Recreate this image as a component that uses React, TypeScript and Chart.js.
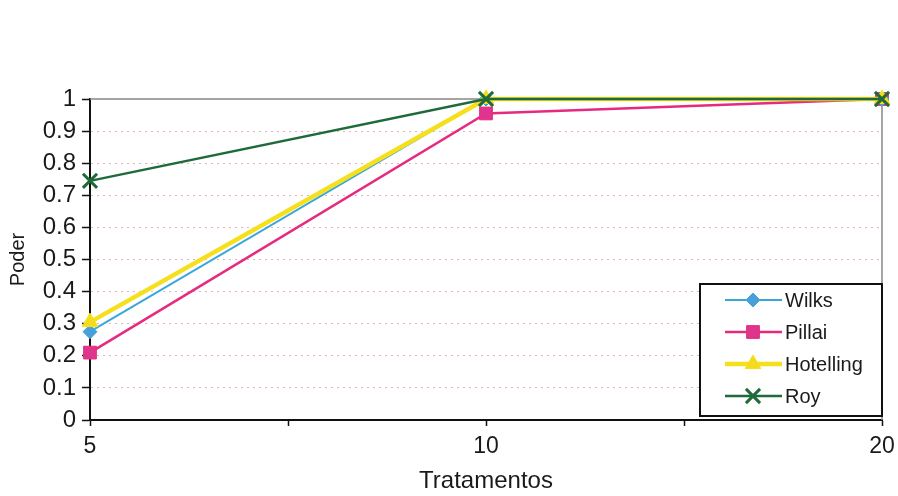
import { useEffect, useRef } from 'react';
import { Chart, registerables } from 'chart.js';

Chart.register(...registerables);

// Número de tratamentos (eixo X) e poder de cada teste multivariado
const treatments = ['5', '10', '20'];
const wilks = [0.275, 1.0, 1.0];
const pillai = [0.21, 0.955, 1.0];
const hotelling = [0.305, 1.0, 1.0];
const roy = [0.745, 1.0, 1.0];
const seriesNames = ['Wilks', 'Pillai', 'Hotelling', 'Roy'];

const FONT = '"Liberation Sans", Arial, sans-serif';

const styles = [
  { color: '#3aa6dc', fill: '#4a9fd8', width: 2, point: 'rectRot', radius: 7, order: 3 },
  { color: '#e62a80', fill: '#e0358c', width: 2.5, point: 'rect', radius: 9, order: 4 },
  { color: '#f6e01e', fill: '#f4dc1c', width: 4.5, point: 'triangle', radius: 9, order: 2 },
  { color: '#1f6a3a', fill: '#2f7a4a', width: 2.5, point: 'crossRot', radius: 10, order: 1 },
];

const seriesValues = [wilks, pillai, hotelling, roy];

function drawMarker(ctx: CanvasRenderingContext2D, kind: string, x: number, y: number, r: number, color: string, fill: string) {
  ctx.save();
  ctx.fillStyle = fill;
  ctx.strokeStyle = color;
  ctx.lineWidth = kind === 'crossRot' ? 3 : 1;
  ctx.beginPath();
  if (kind === 'rectRot') {
    ctx.moveTo(x, y - r);
    ctx.lineTo(x + r, y);
    ctx.lineTo(x, y + r);
    ctx.lineTo(x - r, y);
    ctx.closePath();
    ctx.fill();
    ctx.stroke();
  } else if (kind === 'rect') {
    const s = r * Math.SQRT1_2;
    ctx.rect(x - s, y - s, 2 * s, 2 * s);
    ctx.fill();
    ctx.stroke();
  } else if (kind === 'triangle') {
    ctx.moveTo(x, y - r);
    ctx.lineTo(x + r * 0.866, y + r * 0.5);
    ctx.lineTo(x - r * 0.866, y + r * 0.5);
    ctx.closePath();
    ctx.fill();
    ctx.stroke();
  } else {
    const d = r * Math.SQRT1_2;
    ctx.moveTo(x - d, y - d);
    ctx.lineTo(x + d, y + d);
    ctx.moveTo(x + d, y - d);
    ctx.lineTo(x - d, y + d);
    ctx.stroke();
  }
  ctx.restore();
}

// Borda do gráfico e legenda em caixa no canto inferior direito
const framePlugin = {
  id: 'frameAndLegend',
  beforeDatasetsDraw(chart: any) {
    const { ctx, chartArea } = chart;
    ctx.save();
    ctx.strokeStyle = '#8f8585';
    ctx.lineWidth = 1.5;
    ctx.beginPath();
    ctx.moveTo(chartArea.left, chartArea.top);
    ctx.lineTo(chartArea.right, chartArea.top);
    ctx.lineTo(chartArea.right, chartArea.bottom);
    ctx.stroke();
    ctx.restore();
  },
  afterDraw(chart: any) {
    const { ctx, chartArea } = chart;
    const w = 182;
    const h = 132;
    const left = chartArea.right - w;
    const top = chartArea.bottom - 4 - h;
    ctx.save();
    ctx.fillStyle = '#ffffff';
    ctx.fillRect(left, top, w, h);
    ctx.strokeStyle = '#111';
    ctx.lineWidth = 2;
    ctx.strokeRect(left, top, w, h);
    ctx.font = `20px ${FONT}`;
    ctx.textBaseline = 'middle';
    ctx.textAlign = 'left';
    seriesNames.forEach((name, i) => {
      const st = styles[i];
      const y = top + 16 + i * 32;
      ctx.strokeStyle = st.color;
      ctx.lineWidth = st.width;
      ctx.beginPath();
      ctx.moveTo(left + 25, y);
      ctx.lineTo(left + 82, y);
      ctx.stroke();
      drawMarker(ctx, st.point, left + 53, y, st.radius, st.color, st.fill);
      ctx.fillStyle = '#1a1a1a';
      ctx.fillText(name, left + 85, y + 1);
    });
    ctx.restore();
  },
};

export default function App() {
  const canvasRef = useRef<HTMLCanvasElement | null>(null);

  useEffect(() => {
    if (!canvasRef.current) return;
    const datasets = seriesNames.map((name, i) => {
      const st = styles[i];
      return {
        label: name,
        data: seriesValues[i].map((v, k) => ({ x: k, y: v })),
        borderColor: st.color,
        backgroundColor: st.fill,
        borderWidth: st.width,
        pointStyle: st.point,
        pointRadius: st.radius,
        pointBorderWidth: st.point === 'crossRot' ? 3 : 1,
        pointBorderColor: st.color,
        pointBackgroundColor: st.fill,
        tension: 0,
        clip: false as any,
        order: st.order,
      };
    });

    const chart = new Chart(canvasRef.current, {
      type: 'line',
      data: { datasets },
      plugins: [framePlugin],
      options: {
        animation: false,
        responsive: false,
        maintainAspectRatio: false,
        layout: { padding: { top: 99, right: 16, left: 0, bottom: 0 } },
        plugins: {
          legend: { display: false },
          tooltip: { enabled: false },
        },
        scales: {
          x: {
            type: 'linear',
            min: 0,
            max: 2,
            afterFit: (s: any) => {
              s.height = 76;
              s.paddingLeft = 0;
              s.paddingRight = 0;
            },
            ticks: {
              stepSize: 0.5,
              autoSkip: false,
              maxRotation: 0,
              padding: 7,
              color: '#1a1a1a',
              font: { family: FONT, size: 23 },
              callback: (v: any) => (Number.isInteger(v) ? treatments[v] : ''),
            },
            grid: {
              drawOnChartArea: false,
              drawTicks: true,
              tickLength: 6,
              tickColor: '#111',
              tickWidth: 1.5,
            },
            border: { color: '#111', width: 2 },
            title: {
              display: true,
              text: 'Tratamentos',
              color: '#1a1a1a',
              font: { family: FONT, size: 24 },
              padding: { top: 0, bottom: 0 },
            },
          },
          y: {
            min: 0,
            max: 1,
            afterFit: (s: any) => { s.width = 90; },
            ticks: {
              stepSize: 0.1,
              padding: 6,
              color: '#1a1a1a',
              font: { family: FONT, size: 24 },
              callback: (v: any) => String(Math.round(v * 10) / 10),
            },
            grid: {
              drawTicks: true,
              tickLength: 8,
              tickColor: '#111',
              tickWidth: 1.5,
              color: (c: any) => {
                const v = c.tick ? Math.round(c.tick.value * 10) : 0;
                return v > 0 && v < 10 ? 'rgba(214,140,150,0.65)' : 'rgba(0,0,0,0)';
              },
            },
            border: {
              color: '#111',
              width: 2,
              dash: (c: any) => (c.tick ? [2, 4] : []),
            } as any,
            title: {
              display: true,
              text: 'Poder',
              color: '#1a1a1a',
              font: { family: FONT, size: 20 },
              padding: { top: 6, bottom: 0 },
            },
          },
        },
      },
    });
    return () => chart.destroy();
  }, []);

  return (
    <div style={{ position: 'fixed', left: 0, top: 0, width: 898, height: 496, background: '#fff' }}>
      <canvas ref={canvasRef} width={898} height={496} />
    </div>
  );
}
